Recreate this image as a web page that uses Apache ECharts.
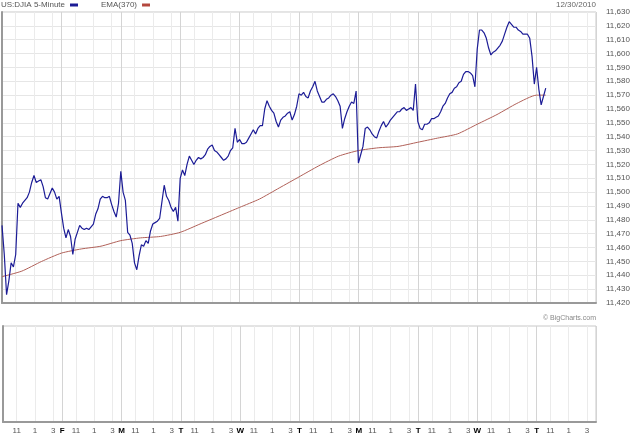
<!DOCTYPE html>
<html><head><meta charset="utf-8">
<script src="https://cdn.jsdelivr.net/npm/echarts@6/dist/echarts.min.js"></script>
<style>html,body{margin:0;padding:0;background:#fff}#c{width:640px;height:441px}</style>
</head><body><div id="c"></div>
<script>
// Day letters for each trading session (Dec 16 ... Dec 30, 2010)
const dayLetters = ['T','F','M','T','W','T','M','T','W','T'];
// DJIA closes sampled every 15 minutes (3 five-minute bars)
const dec16 = [11476,11455,11426,11436,11449,11446,11455,11492,11489,11492,11494,11496,11500,11507,11512,11507,11508,11509,11504,11496,11495,11499,11503,11500,11495,11497];
const dec17 = [11485,11474,11467,11473,11468,11455,11466,11471,11476,11474,11473,11474,11473,11475,11477,11484,11488,11495,11497,11496,11496,11497,11491,11486,11482,11492];
const dec20 = [11515,11500,11494,11471,11469,11463,11449,11444,11454,11462,11461,11465,11463,11472,11477,11478,11479,11481,11493,11505,11497,11494,11489,11486,11489,11479];
const dec21 = [11510,11516,11512,11520,11526,11523,11520,11523,11525,11524,11525,11527,11531,11533,11534,11530,11529,11527,11525,11523,11524,11526,11530,11532,11546,11536];
const dec22 = [11538,11535,11535,11536,11539,11542,11545,11542,11546,11548,11548,11560,11566,11562,11559,11557,11551,11547,11552,11554,11555,11557,11558,11552,11556,11562];
const dec23 = [11571,11570,11572,11569,11568,11573,11576,11580,11573,11569,11565,11565,11567,11568,11570,11571,11569,11566,11562,11546,11553,11558,11562,11565,11564,11573];
const dec27 = [11521,11527,11533,11546,11547,11545,11542,11540,11539,11544,11548,11551,11547,11549,11552,11554,11556,11558,11558,11560,11561,11559,11560,11561,11559,11578];
const dec28 = [11551,11546,11545,11549,11549,11550,11553,11553,11554,11555,11558,11562,11564,11568,11571,11572,11575,11576,11579,11580,11585,11587,11587,11586,11584,11576];
const dec29 = [11603,11617,11617,11615,11611,11604,11599,11601,11602,11604,11606,11609,11614,11619,11623,11621,11619,11619,11617,11616,11614,11614,11614,11611,11598,11578];
const dec30 = [11590,11574,11563,11569,11575];
const days = [dec16,dec17,dec20,dec21,dec22,dec23,dec27,dec28,dec29,dec30];
// EMA(370) read every 26 bars (last value at the last bar)
const ema = [11439,11443,11450,11456,11459,11461,11465,11467,11468,11471,11477,11483,11489,11495,11503,11511,11519,11526,11530,11532,11533,11536,11539,11542,11549,11556,11564,11570,11570];
const emaStep = 26;
const barsPerDay = 78, sampleStep = 3, totalBars = 780;
const hourTicks = {18:'11', 42:'1', 66:'3'};
const yMin = 11420, yMax = 11630, yStep = 10;

const price = [];
days.forEach((vals,d)=>vals.forEach((v,k)=>price.push([d*barsPerDay + k*sampleStep, v])));
const lastBar = price[price.length-1][0];
const emaData = ema.map((v,i)=>[i < ema.length-1 ? i*emaStep : lastBar, v]);

function xLabel(v){
  if (v <= 0 || v >= totalBars) return '';
  const pos = v % barsPerDay, d = Math.floor(v / barsPerDay);
  if (pos === 0) return '{d|' + dayLetters[d] + '}';
  return hourTicks[pos] || '';
}
const splitColors = [];
for (let i = 0; i < barsPerDay/6; i++) {
  const pos = i*6;
  splitColors.push(pos === 0 ? '#d4d4d4' : (hourTicks[pos] ? '#ebebeb' : 'rgba(0,0,0,0)'));
}
const FONT = 'Liberation Sans';
const commas = v => String(v).replace(/\B(?=(\d{3})+(?!\d))/g, ',');

const xBase = {
  type:'value', min:0, max:totalBars, interval:6,
  axisTick:{show:false},
  axisLine:{show:true, onZero:false, lineStyle:{color:'#999', width:2}},
  splitLine:{show:true, lineStyle:{color:splitColors, width:1}}
};

const chart = echarts.init(document.getElementById('c'), null, {renderer:'canvas'});
chart.setOption({
  animation:false,
  textStyle:{fontFamily:FONT},
  title:[
    {text:'12/30/2010', right:44, top:1, padding:0, textStyle:{fontSize:8, color:'#666', fontWeight:'normal', fontFamily:FONT}},
    {text:'© BigCharts.com', right:44, top:315, padding:0, textStyle:{fontSize:7, color:'#888', fontWeight:'normal', fontFamily:FONT}}
  ],
  legend:{left:1, top:1, padding:0, align:'right', icon:'rect', itemWidth:8, itemHeight:3, itemGap:23,
    textStyle:{fontSize:8, color:'#555', fontFamily:FONT}, data:['US:DJIA 5-Minute','EMA(370)']},
  grid:[
    {left:2, right:44, top:12, bottom:138, show:true, borderColor:'#c8c8c8', borderWidth:1},
    {left:2, right:44, top:326, bottom:19, show:true, borderColor:'#c8c8c8', borderWidth:1}
  ],
  xAxis:[
    Object.assign({gridIndex:0, axisLabel:{show:false}}, xBase),
    Object.assign({gridIndex:1, axisLabel:{show:true, formatter:xLabel, fontSize:8, color:'#555', margin:5, fontFamily:FONT,
      rich:{d:{fontSize:8, fontWeight:'bold', color:'#000', fontFamily:FONT}}}}, xBase)
  ],
  yAxis:[
    {gridIndex:0, type:'value', position:'right', min:yMin, max:yMax, interval:yStep,
      axisLine:{show:true, lineStyle:{color:'#999', width:2}}, axisTick:{show:false},
      axisLabel:{fontSize:8, color:'#555', margin:10, fontFamily:FONT, formatter:commas},
      splitLine:{show:true, lineStyle:{color:'#e6e6e6', width:1}}},
    {gridIndex:1, type:'value', position:'right', min:0, max:1,
      axisLine:{show:true, lineStyle:{color:'#999', width:2}}, axisTick:{show:false},
      axisLabel:{show:false}, splitLine:{show:false}}
  ],
  series:[
    {name:'US:DJIA 5-Minute', type:'line', xAxisIndex:0, yAxisIndex:0, data:price, showSymbol:false,
      color:'#1c1c96', lineStyle:{width:1.2, color:'#1c1c96'}, z:3},
    {name:'EMA(370)', type:'line', xAxisIndex:0, yAxisIndex:0, data:emaData, showSymbol:false, smooth:0.2,
      color:'#b4483e', lineStyle:{width:1, color:'#b06058'}, z:2}
  ]
});
</script></body></html>
